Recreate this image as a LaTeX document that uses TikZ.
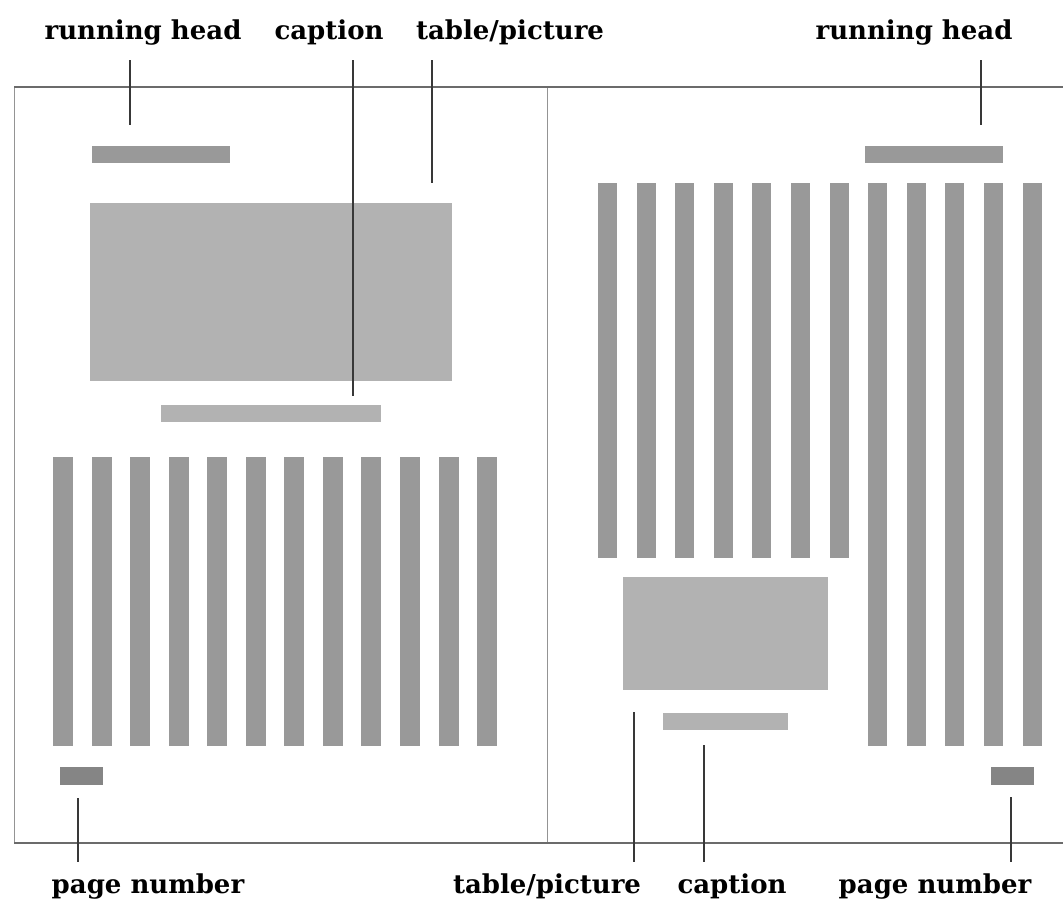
\documentclass[tikz,border=0pt]{standalone}
\usepackage{fontspec}
\setmainfont{DejaVu Serif}
\begin{document}
\begin{tikzpicture}
[x=1pt,y=-1pt,
  frameDecorate/.style={draw=black!58,line width=1.6pt},
  sideDecorate/.style={draw=black!42,line width=1pt},
  leaderDecorate/.style={-,draw=black!78,line width=1.3pt},
  barDecorate/.style={shape=rectangle,anchor=north west,inner sep=0pt,outer sep=0pt,fill=black!40},
  boxDecorate/.style={barDecorate,fill=black!30},
  numDecorate/.style={barDecorate,fill=black!48},
  labelDecorate/.style={anchor=base,inner sep=0pt,text height=19pt,text depth=6pt,
    font=\fontsize{26}{30}\selectfont\bfseries}]
\useasboundingbox (0,0) rectangle (1063,900);
%% page frame
\draw[sideDecorate] (14,87) -- (14,843);
\draw[sideDecorate] (547,87) -- (547,843);
\draw[frameDecorate] (14,87) -- (1063,87);
\draw[frameDecorate] (14,843) -- (1063,843);
%% left page
\node (rhL) at (92,146) [barDecorate,minimum width=138pt,minimum height=17pt] {};
\node (tabL) at (90,203) [boxDecorate,minimum width=362pt,minimum height=178pt] {};
\node (capL) at (161,405) [boxDecorate,minimum width=220pt,minimum height=17pt] {};
\foreach \i in {0,...,11}
{
  \node (colL\i) at (53+38.55*\i,457) [barDecorate,minimum width=20pt,minimum height=289pt] {};
}
\node (pnL) at (60,767) [numDecorate,minimum width=43pt,minimum height=18pt] {};
%% right page
\node (rhR) at (865,146) [barDecorate,minimum width=138pt,minimum height=17pt] {};
\foreach \i in {0,...,11}
{
  \pgfmathsetmacro{\h}{\i<7 ? 375 : 563}
  \node (colR\i) at (598+38.6*\i,183) [barDecorate,minimum width=19pt,minimum height=\h pt] {};
}
\node (tabR) at (623,577) [boxDecorate,minimum width=205pt,minimum height=113pt] {};
\node (capR) at (663,713) [boxDecorate,minimum width=125pt,minimum height=17pt] {};
\node (pnR) at (991,767) [numDecorate,minimum width=43pt,minimum height=18pt] {};
%% labels
\foreach \name/\x/\y/\txt in {
  lRhL/143/39/running head, lCapL/329/39/caption, lTabL/510/39/{table/picture},
  lRhR/914/39/running head, lPnL/148/893/page number, lTabR/547/893/{table/picture},
  lCapR/732/893/caption, lPnR/935/893/page number}
{
  \node (\name) at (\x,\y) [labelDecorate] {\txt};
}
%% leader ends
\foreach \name/\x/\y in {
  eRhL/130/125, eCapL/353/396, eTabL/432/183, eRhR/981/125,
  ePnL/78/798, eTabR/634/712, eCapR/704/745, ePnR/1011/797}
{
  \coordinate (\name) at (\x,\y);
}
%% leaders
\foreach \lbl/\tip in {lRhL/eRhL, lCapL/eCapL, lTabL/eTabL, lRhR/eRhR}
{
  \draw[leaderDecorate,shorten <=15pt] (\lbl.south -| \tip) -- (\tip);
}
\foreach \lbl/\tip in {lPnL/ePnL, lTabR/eTabR, lCapR/eCapR, lPnR/ePnR}
{
  \draw[leaderDecorate,shorten <=12pt] (\lbl.north -| \tip) -- (\tip);
}
\end{tikzpicture}
\end{document}
